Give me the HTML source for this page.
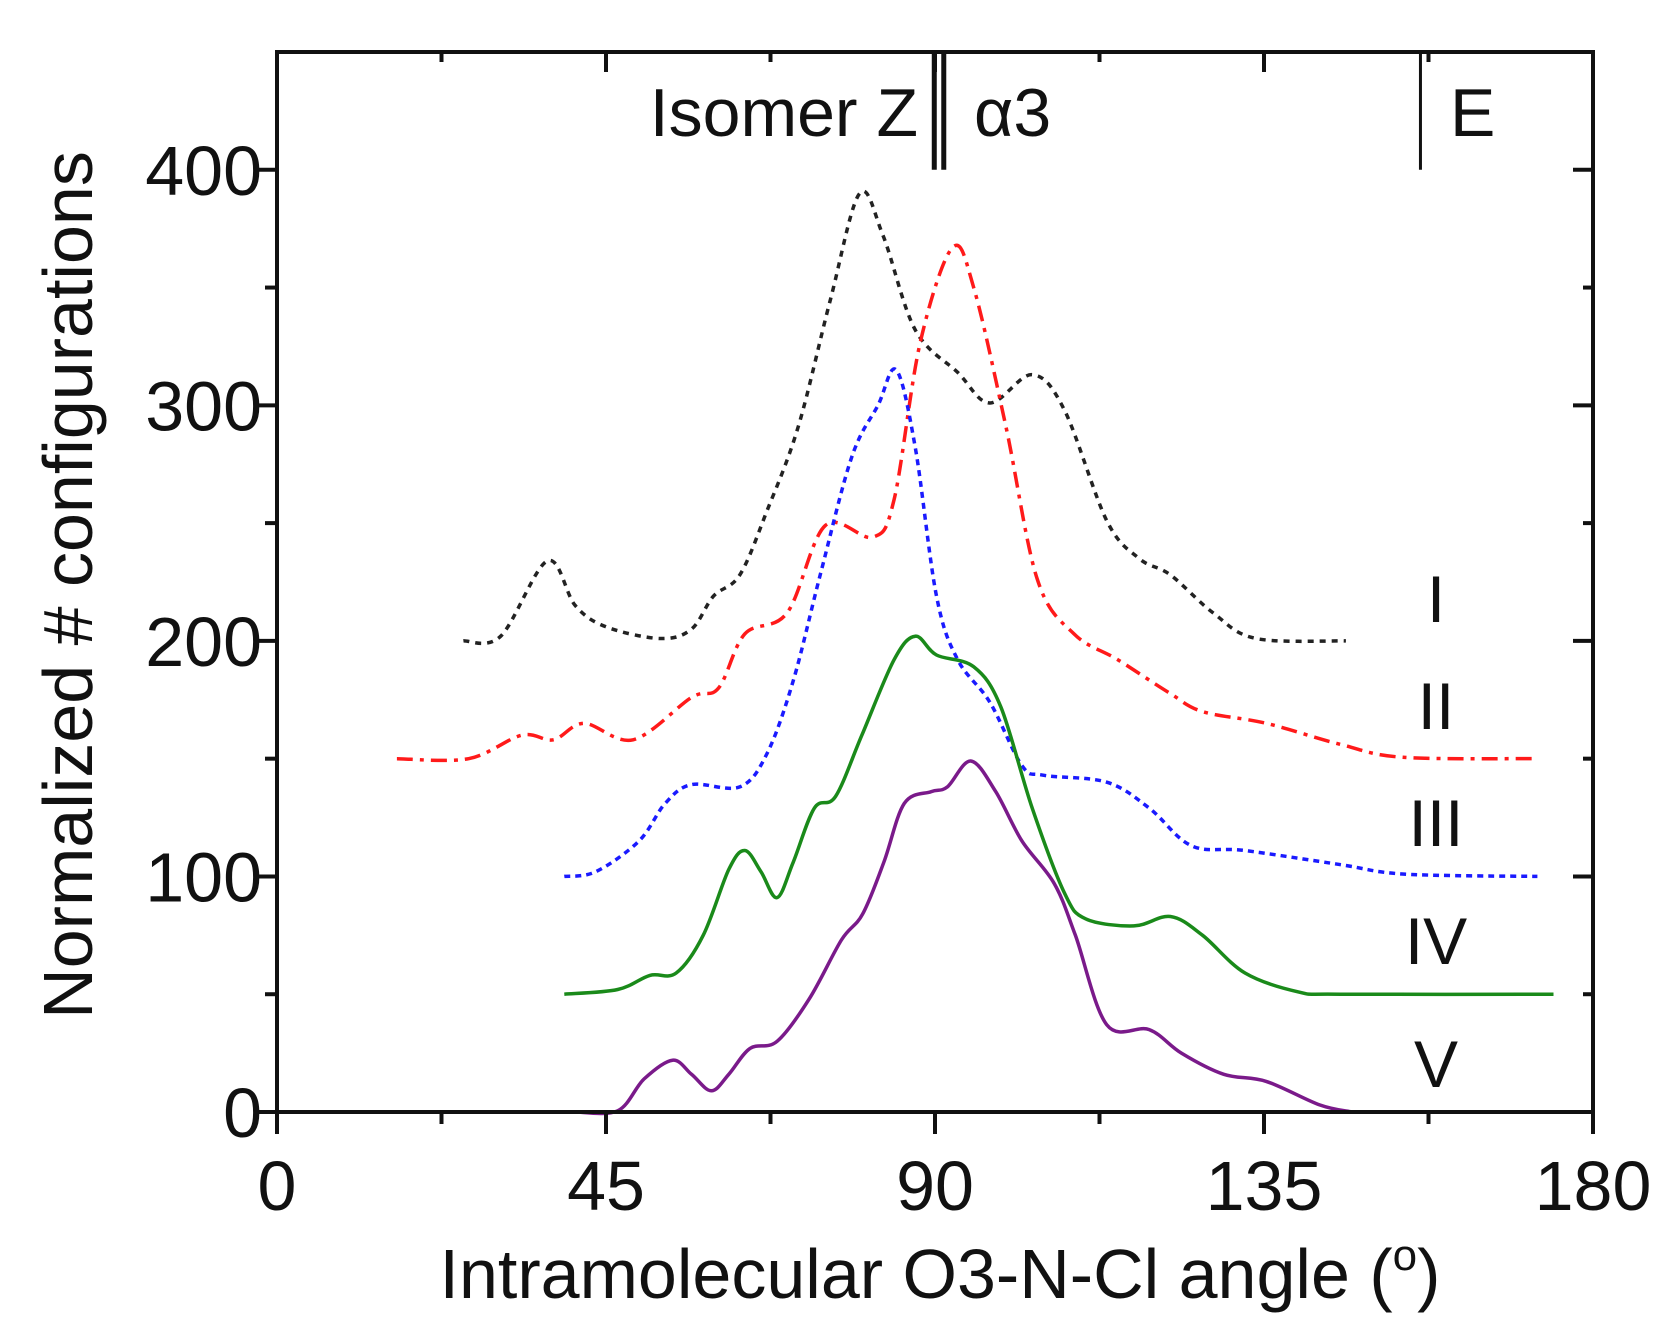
<!DOCTYPE html>
<html><head><meta charset="utf-8"><style>
html,body{margin:0;padding:0;background:#fff;}
svg{display:block;font-family:"Liberation Sans",sans-serif;}
</style></head><body>
<svg id="chart" width="1666" height="1342" viewBox="0 0 1666 1342" xmlns="http://www.w3.org/2000/svg"></svg>
<script>
const xTicks=[0,45,90,135,180];
const yTicks=[0,100,200,300,400];
const curveNames=["I","II","III","IV","V"];
const sI_x=[25.5,30.6,37,40.8,45,52.4,56.7,59.7,63.3,67,71.3,75.7,79.7,82.9,87.3,93.1,97.5,103.3,107.7,113.5,117.9,122.2,128,133.9,146.2];
const sI_y=[200,202,234,215,206,201,205,219,228,255,291,345,390,372,332,314,301,313,298,251,235,228,212,201,200];
const sII_x=[16.4,26.2,33.5,37.8,42,48.7,56.7,60.4,64,69.8,75,81.5,84.4,88,92.4,95.3,99.7,104,109,115,122,126.6,135.3,145.5,154,172.4];
const sII_y=[150,150,160,158,165,158,176,180,203,212,249,244,260,327,367,350,291,226,203,192,178,170,165,156,150.6,150];
const sIII_x=[39.3,43.6,49.5,53.1,56.7,63.3,67,70.6,74.3,78.6,82.2,84.7,87.3,90.2,93.1,97.5,101.9,104.8,113.5,119.3,125.1,132.4,145.5,154.2,172.4];
const sIII_y=[100,102,115,131,139,138,152,183,228,278,300,315,282,219,192,174,147,143,140,129,113,111,105,101,100];
const sIV_x=[39.3,46.6,51,54.6,58.3,61.8,64,66.2,68.4,70.6,73.5,76.4,80,84.4,87.3,90.2,95.3,99,103.3,107.7,110.6,117.2,122.2,126.6,132.4,139.7,145.5,174.6];
const sIV_y=[50,52,58,59,75,103,111,102,91,106,129,134,160,192,202,194,189,172,129,93,82,79,83,75,59,51,50,50];
const sV_x=[40.7,46.6,50.2,54.1,56.7,59.4,61.8,64.7,68.4,72.8,77.2,80.1,83,85.8,89.5,91.7,94.9,98.3,101.9,106.3,109.2,113.5,119.3,123.7,129.5,135.3,142.6,147];
const sV_y=[0,0.5,14,22,16,9,16,27,30,48,73,84,106,131,136,138,149,136,115,97,75,37,35,25,16,13,3,0];

const X0=277,X1=1593,Y0=1112,Y1=52;
const xs=v=>X0+(v/180)*(X1-X0);
const ys=v=>Y0-(v/450)*(Y0-Y1);
const svg=document.getElementById('chart');
const NS="http://www.w3.org/2000/svg";
function mk(tag,attrs,parent){const e=document.createElementNS(NS,tag);for(const k in attrs)e.setAttribute(k,attrs[k]);(parent||svg).appendChild(e);return e;}

function smooth(px,py){
  const p=px.map((x,i)=>[xs(x),ys(py[i])]);
  let d="M"+p[0][0].toFixed(1)+","+p[0][1].toFixed(1);
  for(let i=0;i<p.length-1;i++){
    const p0=p[i-1]||p[i],p1=p[i],p2=p[i+1],p3=p[i+2]||p2;
    const c1=[p1[0]+(p2[0]-p0[0])/6,p1[1]+(p2[1]-p0[1])/6];
    const c2=[p2[0]-(p3[0]-p1[0])/6,p2[1]-(p3[1]-p1[1])/6];
    d+=" C"+c1.map(v=>v.toFixed(1))+" "+c2.map(v=>v.toFixed(1))+" "+p2.map(v=>v.toFixed(1));
  }
  return d;
}

const series=[
 [sI_x,sI_y,"#222","6,6","series-i-curve"],
 [sII_x,sII_y,"#ff1a1a","16,7,4,7","series-ii-curve"],
 [sIII_x,sIII_y,"#1a1aff","6,5","series-iii-curve"],
 [sIV_x,sIV_y,"#1a8a1a","","series-iv-curve"],
 [sV_x,sV_y,"#7a1a8a","","series-v-curve"]
];
series.forEach(s=>{
  const p=mk('path',{d:smooth(s[0],s[1]),fill:"none",stroke:s[2],"stroke-width":3.5,"stroke-dasharray":s[3]});
  
  
});

const fr=mk('rect',{x:X0,y:Y1,width:X1-X0,height:Y0-Y1,fill:"none",stroke:"#111","stroke-width":4});



for(let v=0;v<450;v+=50){
  const major=v%100===0, y=ys(v);
  const t=mk('line',{x1:X0-(major?22:12),x2:X0,y1:y,y2:y,stroke:"#111","stroke-width":4});
  
  
  const t2=mk('line',{x1:X1-(major?20:10),x2:X1,y1:y,y2:y,stroke:"#111","stroke-width":4});
  
  
}
yTicks.forEach(v=>{
  const t=mk('text',{x:262,y:ys(v)+25,"text-anchor":"end","font-size":70,fill:"#111"});
  t.textContent=v;
  
  
});
for(let v=0;v<=180;v+=22.5){
  const major=v%45===0,x=xs(v);
  const t=mk('line',{x1:x,x2:x,y1:Y0,y2:Y0+(major?22:12),stroke:"#111","stroke-width":4});
  
  
  if(v>0&&v<180){
    const t2=mk('line',{x1:x,x2:x,y1:Y1,y2:Y1+(major?20:10),stroke:"#111","stroke-width":4});
    
    
  }
}
xTicks.forEach(v=>{
  const t=mk('text',{x:xs(v),y:1210,"text-anchor":"middle","font-size":70,fill:"#111"});
  t.textContent=v;
  
  
});
const xt=mk('text',{x:940,y:1298,"text-anchor":"middle","font-size":70,fill:"#111"});
xt.innerHTML='Intramolecular O3-N-Cl angle (<tspan font-size="44" dy="-28">o</tspan><tspan dy="28">)</tspan>';


const yt=mk('text',{x:0,y:0,"text-anchor":"middle","font-size":70,fill:"#111",transform:"translate(92,585) rotate(-90)"});
yt.textContent='Normalized # configurations';


[[89.9],[91.2],[156.4]].forEach(m=>{
  const l=mk('line',{x1:xs(m[0]),x2:xs(m[0]),y1:Y1,y2:ys(400),stroke:"#111","stroke-width":m[0]<100?5:3});
  
  
});
[["Isomer Z",918,"end","isomer-z-label"],["α3",974,"start","alpha3-label"],["E",1450,"start","isomer-e-label"]].forEach(a=>{
  const t=mk('text',{x:a[1],y:136,"text-anchor":a[2],"font-size":68,fill:"#111"});
  t.textContent=a[0];
  
  
});
const ly=[598,705,822,940,1063];
curveNames.forEach((n,i)=>{
  const t=mk('text',{x:1436,y:ly[i]+24,"text-anchor":"middle","font-size":66,fill:"#111"});
  t.textContent=n;
  
  
});
</script>
</body></html>
